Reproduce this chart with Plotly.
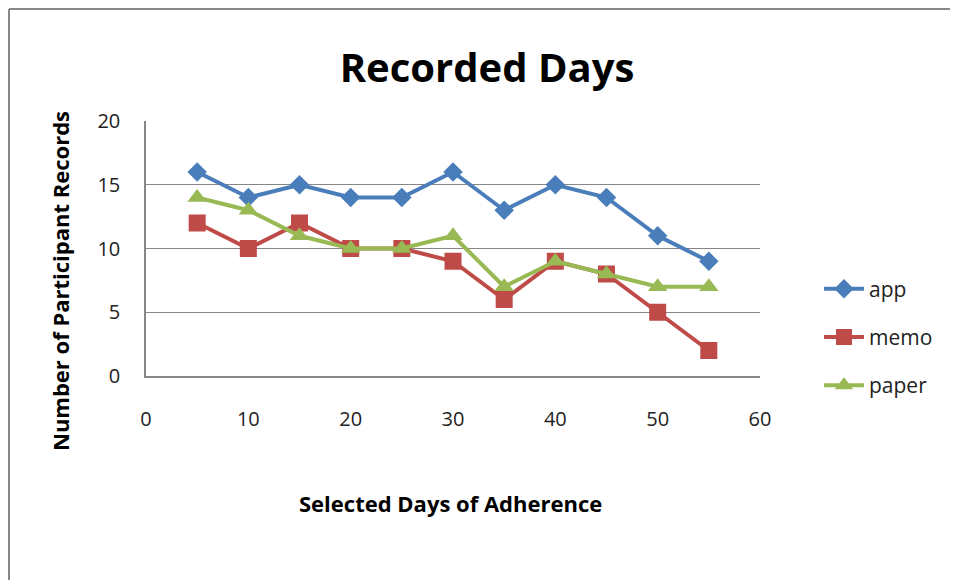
import plotly.graph_objects as go

days = [5, 10, 15, 20, 25, 30, 35, 40, 45, 50, 55]
app = [16, 14, 15, 14, 14, 16, 13, 15, 14, 11, 9]
memo = [12, 10, 12, 10, 10, 9, 6, 9, 8, 5, 2]
paper = [14, 13, 11, 10, 10, 11, 7, 9, 8, 7, 7]

series = [
    ("app", app, "#4A7EBB", "diamond", 15),
    ("memo", memo, "#BE4B48", "square", 17),
    ("paper", paper, "#98B954", "triangle-up", 17),
]

fig = go.Figure()
for name, vals, color, sym, size in series:
    fig.add_trace(go.Scatter(
        x=days, y=vals, name=name, mode="lines+markers",
        line=dict(color=color, width=4),
        marker=dict(symbol=sym, size=size, color=color),
        legendgroup=name,
    ))

FONT = "Open Sans"
L, T, W, H = 138, 113, 614, 255
B = T + H  # plot bottom in figure px


def px(xp):
    return (xp - L) / W


def py(yp):
    return (B - yp) / H


fig.update_layout(
    width=958, height=580,
    margin=dict(l=L, r=958 - L - W, t=T, b=580 - B),
    paper_bgcolor="white", plot_bgcolor="white",
    showlegend=True,
    legend=dict(x=px(811), y=py(329), xanchor="left", yanchor="middle",
                font=dict(family=FONT, size=21, color="#222"),
                tracegroupgap=18, itemwidth=40),
    title=dict(text="<b>Recorded Days</b>", x=0.5, xref="container", xanchor="center",
               y=1 - 60 / 580, yref="container", yanchor="middle",
               font=dict(family=FONT, size=40, color="black")),
    xaxis=dict(range=[0, 60], tickvals=[0, 10, 20, 30, 40, 50, 60], showgrid=False,
               zeroline=False, showline=True, linecolor="#868686", linewidth=1.5,
               ticks="", ticklabelstandoff=24,
               tickfont=dict(family=FONT, size=20, color="#222")),
    yaxis=dict(range=[0, 20], tickvals=[0, 5, 10, 15, 20], showgrid=True,
               gridcolor="#868686", gridwidth=1, zeroline=False, showline=True,
               linecolor="#868686", linewidth=1.5, ticks="", ticklabelstandoff=20,
               tickfont=dict(family=FONT, size=20, color="#222")),
    annotations=[
        dict(text="<b>Selected Days of Adherence</b>", xref="paper", yref="paper",
             x=px(442), y=py(495), xanchor="center", yanchor="middle",
             showarrow=False, font=dict(family=FONT, size=22, color="black")),
        dict(text="<b>Number of Participant Records</b>", xref="paper", yref="paper",
             x=px(52), y=py(273), xanchor="center", yanchor="middle",
             textangle=-90, showarrow=False, font=dict(family=FONT, size=22, color="black")),
    ],
    shapes=[
        dict(type="line", xref="paper", yref="paper", x0=px(1), x1=px(970),
             y0=py(1), y1=py(1), line=dict(color="#878787", width=2)),
        dict(type="line", xref="paper", yref="paper", x0=px(1), x1=px(1),
             y0=py(1), y1=py(600), line=dict(color="#878787", width=2)),
    ],
)

fig.write_html("out.html")
